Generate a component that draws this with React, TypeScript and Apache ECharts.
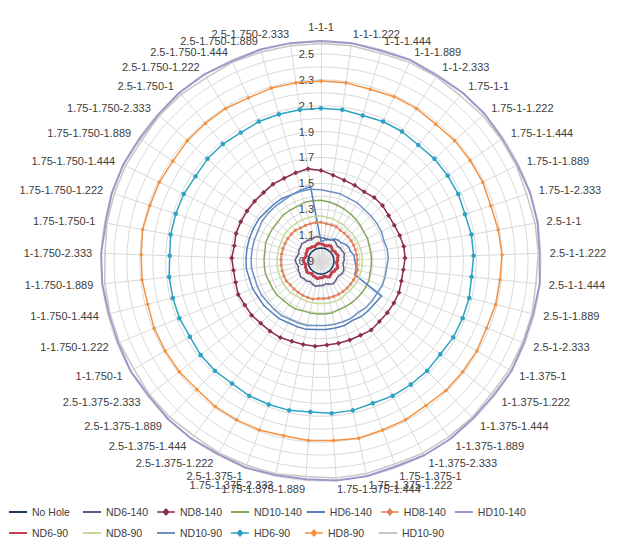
import React, { useEffect, useRef } from "react";
import * as echarts from "echarts";

// Specimen configurations (a-b-c), drawn clockwise from the top
const categories = [
  "1-1-1", "1-1-1.222", "1-1-1.444", "1-1-1.889", "1-1-2.333",
  "1.75-1-1", "1.75-1-1.222", "1.75-1-1.444", "1.75-1-1.889", "1.75-1-2.333",
  "2.5-1-1", "2.5-1-1.222", "2.5-1-1.444", "2.5-1-1.889", "2.5-1-2.333",
  "1-1.375-1", "1-1.375-1.222", "1-1.375-1.444", "1-1.375-1.889", "1-1.375-2.333",
  "1.75-1.375-1", "1.75-1.375-1.222", "1.75-1.375-1.444", "1.75-1.375-1.889", "1.75-1.375-2.333",
  "2.5-1.375-1", "2.5-1.375-1.222", "2.5-1.375-1.444", "2.5-1.375-1.889", "2.5-1.375-2.333",
  "1-1.750-1", "1-1.750-1.222", "1-1.750-1.444", "1-1.750-1.889", "1-1.750-2.333",
  "1.75-1.750-1", "1.75-1.750-1.222", "1.75-1.750-1.444", "1.75-1.750-1.889", "1.75-1.750-2.333",
  "2.5-1.750-1", "2.5-1.750-1.222", "2.5-1.750-1.444", "2.5-1.750-1.889", "2.5-1.750-2.333",
];

const axisMin = 0.9;
const axisMax = 2.6;
const axisStep = 0.1;

const noHole = [
  1.00, 1.00, 1.00, 1.00, 1.00, 1.00, 1.00, 1.00, 1.00, 1.00, 1.00, 1.00, 1.00, 1.00, 1.00,
  1.00, 1.00, 1.00, 1.00, 1.00, 1.00, 1.00, 1.00, 1.00, 1.00, 1.00, 1.00, 1.00, 1.00, 1.00,
  1.00, 1.00, 1.00, 1.00, 1.00, 1.00, 1.00, 1.00, 1.00, 1.00, 1.00, 1.00, 1.00, 1.00, 1.00,
];
const nd6_140 = [
  1.08, 1.08, 1.07, 1.08, 1.09, 1.08, 1.07, 1.08, 1.08, 1.09, 1.08, 1.08, 1.07, 1.08, 1.09,
  1.09, 1.08, 1.08, 1.09, 1.10, 1.09, 1.08, 1.09, 1.09, 1.10, 1.09, 1.08, 1.09, 1.09, 1.10,
  1.09, 1.09, 1.08, 1.09, 1.10, 1.09, 1.08, 1.09, 1.09, 1.10, 1.09, 1.09, 1.08, 1.09, 1.09,
];
const nd8_140 = [
  1.60, 1.57, 1.55, 1.54, 1.53, 1.54, 1.54, 1.53, 1.53, 1.54, 1.55, 1.55, 1.54, 1.54, 1.55,
  1.55, 1.55, 1.55, 1.56, 1.55, 1.55, 1.55, 1.55, 1.56, 1.56, 1.56, 1.57, 1.57, 1.57, 1.58,
  1.58, 1.59, 1.58, 1.58, 1.59, 1.58, 1.59, 1.59, 1.59, 1.59, 1.59, 1.60, 1.60, 1.61, 1.62,
];
const nd10_140 = [
  1.37, 1.36, 1.35, 1.34, 1.33, 1.32, 1.31, 1.30, 1.30, 1.29, 1.29, 1.29, 1.29, 1.29, 1.30,
  1.30, 1.30, 1.30, 1.30, 1.30, 1.30, 1.31, 1.31, 1.31, 1.31, 1.31, 1.32, 1.32, 1.32, 1.33,
  1.33, 1.33, 1.34, 1.34, 1.34, 1.34, 1.35, 1.35, 1.35, 1.35, 1.36, 1.36, 1.36, 1.37, 1.37,
];
const hd6_140 = [
  1.05, 1.06, 1.08, 1.08, 1.10, 1.11, 1.11, 1.13, 1.14, 1.14, 1.16, 1.16, 1.17, 1.18, 1.18,
  1.44, 1.43, 1.43, 1.43, 1.42, 1.43, 1.43, 1.43, 1.43, 1.44, 1.44, 1.44, 1.45, 1.45, 1.46,
  1.46, 1.47, 1.47, 1.48, 1.48, 1.48, 1.48, 1.48, 1.48, 1.47, 1.47, 1.47, 1.46, 1.47, 1.48,
];
const hd8_140 = [
  1.20, 1.19, 1.19, 1.19, 1.18, 1.18, 1.18, 1.18, 1.18, 1.18, 1.18, 1.18, 1.18, 1.19, 1.19,
  1.19, 1.19, 1.19, 1.19, 1.19, 1.19, 1.19, 1.19, 1.19, 1.20, 1.20, 1.20, 1.20, 1.20, 1.20,
  1.21, 1.21, 1.21, 1.21, 1.21, 1.21, 1.21, 1.21, 1.21, 1.21, 1.21, 1.20, 1.20, 1.20, 1.20,
];
const hd10_140 = [
  2.60, 2.60, 2.59, 2.60, 2.59, 2.60, 2.60, 2.59, 2.59, 2.60, 2.60, 2.59, 2.60, 2.59, 2.59,
  2.60, 2.59, 2.59, 2.60, 2.60, 2.59, 2.60, 2.60, 2.59, 2.59, 2.60, 2.59, 2.60, 2.60, 2.59,
  2.60, 2.59, 2.59, 2.60, 2.60, 2.59, 2.60, 2.60, 2.59, 2.59, 2.60, 2.60, 2.59, 2.60, 2.60,
];
const nd6_90 = [
  1.03, 1.03, 1.02, 1.03, 1.04, 1.03, 1.02, 1.03, 1.03, 1.04, 1.03, 1.03, 1.02, 1.03, 1.04,
  1.03, 1.03, 1.02, 1.03, 1.04, 1.03, 1.02, 1.03, 1.03, 1.04, 1.03, 1.03, 1.02, 1.03, 1.04,
  1.03, 1.03, 1.02, 1.03, 1.04, 1.03, 1.02, 1.03, 1.03, 1.04, 1.03, 1.03, 1.02, 1.03, 1.04,
];
const nd8_90 = [
  1.25, 1.24, 1.24, 1.23, 1.23, 1.22, 1.22, 1.22, 1.22, 1.22, 1.22, 1.22, 1.22, 1.22, 1.22,
  1.22, 1.22, 1.22, 1.22, 1.23, 1.23, 1.23, 1.23, 1.23, 1.23, 1.23, 1.23, 1.23, 1.24, 1.24,
  1.24, 1.24, 1.24, 1.24, 1.24, 1.24, 1.24, 1.24, 1.25, 1.25, 1.25, 1.25, 1.25, 1.25, 1.25,
];
const nd10_90 = [
  1.45, 1.44, 1.44, 1.43, 1.43, 1.42, 1.42, 1.42, 1.42, 1.41, 1.42, 1.42, 1.41, 1.41, 1.41,
  1.40, 1.40, 1.40, 1.39, 1.40, 1.40, 1.40, 1.40, 1.40, 1.41, 1.41, 1.41, 1.42, 1.42, 1.42,
  1.43, 1.43, 1.43, 1.44, 1.44, 1.44, 1.44, 1.44, 1.45, 1.45, 1.45, 1.45, 1.46, 1.46, 1.46,
];
const hd6_90 = [
  2.08, 2.08, 2.07, 2.08, 2.08, 2.07, 2.08, 2.08, 2.08, 2.07, 2.08, 2.08, 2.07, 2.08, 2.08,
  2.08, 2.07, 2.08, 2.08, 2.08, 2.07, 2.08, 2.08, 2.07, 2.08, 2.08, 2.08, 2.07, 2.08, 2.08,
  2.07, 2.08, 2.08, 2.08, 2.07, 2.08, 2.08, 2.08, 2.07, 2.08, 2.08, 2.07, 2.08, 2.08, 2.08,
];
const hd8_90 = [
  2.29, 2.29, 2.28, 2.29, 2.29, 2.28, 2.29, 2.29, 2.29, 2.28, 2.29, 2.30, 2.29, 2.29, 2.28,
  2.29, 2.29, 2.29, 2.28, 2.29, 2.29, 2.30, 2.29, 2.29, 2.28, 2.29, 2.29, 2.29, 2.28, 2.29,
  2.29, 2.29, 2.28, 2.29, 2.29, 2.30, 2.29, 2.29, 2.28, 2.29, 2.29, 2.29, 2.28, 2.29, 2.29,
];
const hd10_90 = [
  2.58, 2.58, 2.57, 2.58, 2.58, 2.57, 2.58, 2.58, 2.58, 2.57, 2.58, 2.58, 2.57, 2.58, 2.58,
  2.58, 2.57, 2.58, 2.58, 2.58, 2.57, 2.58, 2.58, 2.57, 2.58, 2.58, 2.58, 2.57, 2.58, 2.58,
  2.57, 2.58, 2.58, 2.58, 2.57, 2.58, 2.58, 2.58, 2.57, 2.58, 2.58, 2.57, 2.58, 2.58, 2.58,
];

type Spec = {
  name: string;
  values: number[];
  color: string;
  width: number;
  symbol: string;
  size: number;
};

const seriesSpecs: Spec[] = [
  { name: "No Hole", values: noHole, color: "#1f3864", width: 1.5, symbol: "none", size: 0 },
  { name: "ND6-140", values: nd6_140, color: "#5e5a86", width: 1.5, symbol: "none", size: 0 },
  { name: "ND8-140", values: nd8_140, color: "#8b2f47", width: 1.5, symbol: "diamond", size: 5 },
  { name: "ND10-140", values: nd10_140, color: "#86a85a", width: 1.5, symbol: "none", size: 0 },
  { name: "HD6-140", values: hd6_140, color: "#4f7fbd", width: 1.5, symbol: "none", size: 0 },
  { name: "HD8-140", values: hd8_140, color: "#e3825a", width: 1.5, symbol: "circle", size: 3 },
  { name: "HD10-140", values: hd10_140, color: "#9d96c8", width: 2, symbol: "none", size: 0 },
  { name: "ND6-90", values: nd6_90, color: "#c2404c", width: 3, symbol: "none", size: 0 },
  { name: "ND8-90", values: nd8_90, color: "#c4da98", width: 1.5, symbol: "none", size: 0 },
  { name: "ND10-90", values: nd10_90, color: "#6f90c2", width: 1.5, symbol: "none", size: 0 },
  { name: "HD6-90", values: hd6_90, color: "#2ea2c2", width: 1.5, symbol: "circle", size: 4.5 },
  { name: "HD8-90", values: hd8_90, color: "#f5923f", width: 1.5, symbol: "circle", size: 3.5 },
  { name: "HD10-90", values: hd10_90, color: "#c6c6c6", width: 1.5, symbol: "none", size: 0 },
];

const FONT = "'Liberation Sans', Arial, sans-serif";

// ECharts lays radar indicators out counter-clockwise; keep the first one on top
// and walk the rest backwards so the configurations read clockwise.
const order = [0, ...categories.map((_, i) => categories.length - 1 - i).slice(0, categories.length - 1)];

const LINE_ICON = "path://M0,0 L18,0 L18,2 L0,2 Z";
const MARK_ICON = "path://M0,3.2 L6,3.2 L9,0 L12,3.2 L18,3.2 L18,4.8 L12,4.8 L9,8 L6,4.8 L0,4.8 Z";

export default function App() {
  const ref = useRef<HTMLDivElement>(null);

  useEffect(() => {
    if (!ref.current) return;
    const chart = echarts.init(ref.current, undefined, { renderer: "svg" });

    const indicator = order.map((idx, pos) => ({
      name: categories[idx],
      min: axisMin,
      max: axisMax,
      ...(pos === 0 ? { axisLabel: { show: true } } : {}),
    }));

    const splitNumber = Math.round((axisMax - axisMin) / axisStep);

    chart.setOption({
      animation: false,
      backgroundColor: "#ffffff",
      radar: {
        center: [321, 261],
        radius: 220,
        startAngle: 90,
        shape: "circle",
        splitNumber,
        nameGap: 9,
        axisName: { color: "#404040", fontSize: 11, fontFamily: FONT },
        splitLine: { lineStyle: { color: "#d9d9d9", width: 1 } },
        splitArea: { show: false },
        axisLine: { lineStyle: { color: "#d9d9d9", width: 1 } },
        axisTick: { show: false },
        axisLabel: {
          show: false,
          color: "#404040",
          fontSize: 11,
          fontFamily: FONT,
          margin: 7,
          formatter: (v: number, i: number) =>
            i % 2 === 0 && i < splitNumber ? Number(v).toFixed(1) : "",
        },
        indicator,
      },
      legend: {
        left: 9,
        top: 504,
        width: 530,
        padding: 0,
        itemWidth: 18,
        itemHeight: 9,
        itemGap: 5,
        textStyle: {
          color: "#404040",
          fontSize: 10.5,
          fontFamily: FONT,
          width: 46,
          lineHeight: 16,
        },
        data: seriesSpecs.map((s) => ({
          name: s.name,
          icon: s.symbol === "none" ? LINE_ICON : MARK_ICON,
          itemStyle: { color: s.color },
        })),
      },
      series: seriesSpecs.map((s) => ({
        type: "radar",
        name: s.name,
        symbol: s.symbol,
        symbolSize: s.size,
        lineStyle: { color: s.color, width: s.width },
        itemStyle: { color: s.color },
        data: [{ name: s.name, value: order.map((i) => s.values[i]) }],
      })),
    });

    return () => chart.dispose();
  }, []);

  return (
    <div
      ref={ref}
      style={{ position: "absolute", left: 0, top: 0, width: 624, height: 545 }}
    />
  );
}
